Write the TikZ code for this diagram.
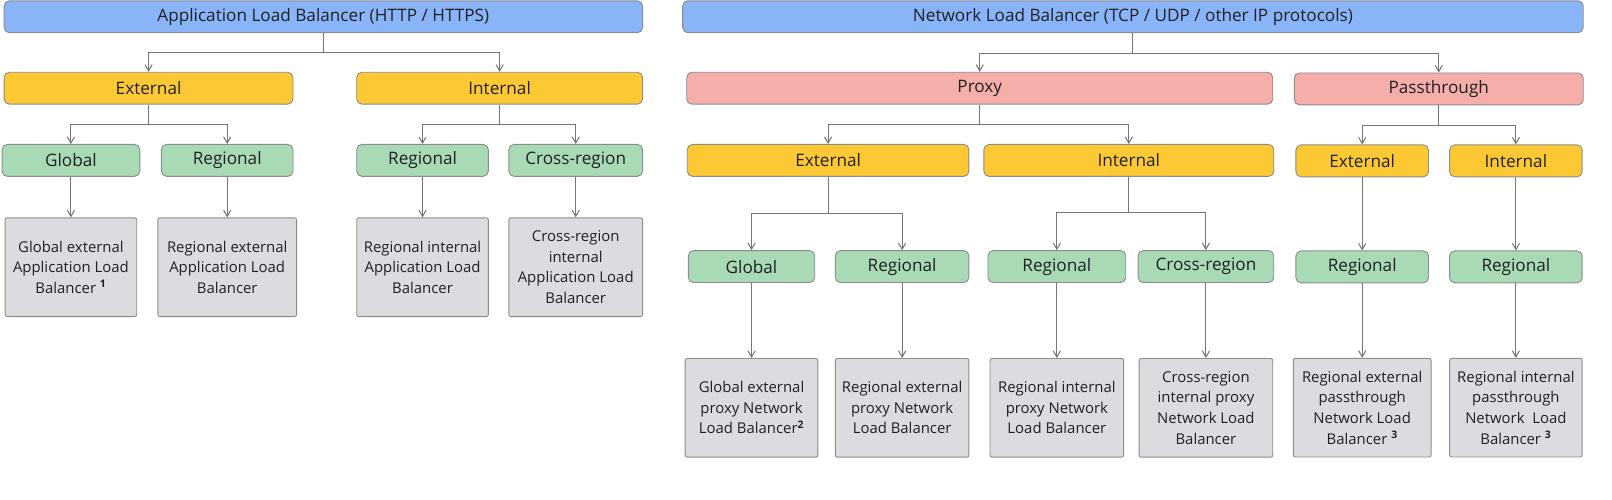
\documentclass[tikz,border=0pt]{standalone}
\usepackage{fontspec}
\setmainfont{Open Sans}
\usetikzlibrary{arrows.meta, positioning}

\definecolor{lbblue}{HTML}{8AB4F8}
\definecolor{lbred}{HTML}{F5AEA9}
\definecolor{lbyellow}{HTML}{FCC934}
\definecolor{lbgreen}{HTML}{A8DAB5}
\definecolor{lbgrey}{HTML}{DADCE0}
\definecolor{boxline}{HTML}{8C8C8C}
\definecolor{linkgrey}{HTML}{757575}
\definecolor{ink}{HTML}{202124}

\begin{document}
\begin{tikzpicture}[
        x=1pt, y=-1pt,
        box/.style={rectangle, draw=boxline, line width=0.9pt, rounded corners=5pt, minimum height=31pt, inner sep=0pt, text=ink, font=\fontsize{16.7}{19}\selectfont},
        proto/.style={box, fill=lbblue},
        mode/.style={box, fill=lbred},
        reach/.style={box, fill=lbyellow},
        region/.style={box, fill=lbgreen},
        product/.style={box, fill=lbgrey, rounded corners=2pt, minimum height=96pt, align=center, font=\fontsize{14.5}{20}\selectfont},
        link/.style={draw=linkgrey, line width=1pt, -{Straight Barb[length=6pt, width=7pt]}}
    ]
    \useasboundingbox (0,0) rectangle (1568,485.4);

    % top level
    \node[proto, minimum width=621pt] (alb) at (314.5,16.3) {Application Load Balancer (HTTP / HTTPS)};
    \node[proto, minimum width=876pt] (nlb) at (1102,16.3) {Network Load Balancer (TCP / UDP / other IP protocols)};

    % application load balancer side
    \node[reach, minimum width=281pt] (albext) at (144.5,85.8) {External};
    \node[reach, minimum width=278pt] (albint) at (486,85.8) {Internal};
    \node[region, minimum width=134pt] (albglobal) at (69,156) {Global};
    \node[region, minimum width=128pt] (albregional) at (221,156) {Regional};
    \node[region, minimum width=128pt] (albintreg) at (411,156) {Regional};
    \node[region, minimum width=130pt] (albcross) at (560,156) {Cross-region};
    \node[product, minimum width=128pt, below=39.5pt of albglobal] (gea) {Global external\\Application Load\\Balancer \textsuperscript{\textbf{1}}};
    \node[product, minimum width=135pt, below=39.5pt of albregional] (rea) {Regional external\\Application Load\\Balancer};
    \node[product, minimum width=128pt, below=39.5pt of albintreg] (ria) {Regional internal\\Application Load\\Balancer};
    \node[product, minimum width=130pt, below=39.5pt of albcross] (cria) {Cross-region\\internal\\Application Load\\Balancer};

    % network load balancer side
    \node[mode, minimum width=570pt] (proxy) at (953,85.8) {Proxy};
    \node[mode, minimum width=281pt] (pass) at (1399.5,86.5) {Passthrough};
    \node[reach, minimum width=274pt] (pxext) at (805.5,156) {External};
    \node[reach, minimum width=282pt] (pxint) at (1098,156) {Internal};
    \node[reach, minimum width=129pt] (ptext) at (1325,156.5) {External};
    \node[reach, minimum width=129pt] (ptint) at (1474.5,156.5) {Internal};
    \node[region, minimum width=123pt] (pxglobal) at (731,259.3) {Global};
    \node[region, minimum width=130pt] (pxregional) at (877.5,259.3) {Regional};
    \node[region, minimum width=134pt] (pxintreg) at (1028,259.3) {Regional};
    \node[region, minimum width=132pt] (pxcross) at (1173,259.3) {Cross-region};
    \node[region, minimum width=129pt] (ptextreg) at (1325,259.6) {Regional};
    \node[region, minimum width=129pt] (ptintreg) at (1474.5,259.6) {Regional};
    \node[product, minimum width=129pt, below=73pt of pxglobal] (gepn) {Global external\\proxy Network\\Load Balancer\textsuperscript{\textbf{2}}};
    \node[product, minimum width=130pt, below=73pt of pxregional] (repn) {Regional external\\proxy Network\\Load Balancer};
    \node[product, minimum width=130pt, below=73pt of pxintreg] (ripn) {Regional internal\\proxy Network\\Load Balancer};
    \node[product, minimum width=130pt, below=73pt of pxcross] (cripn) {Cross-region\\internal proxy\\Network Load\\Balancer};
    \node[product, minimum width=134pt, below=72.5pt of ptextreg] (repp) {Regional external\\passthrough\\Network Load\\Balancer \textsuperscript{\textbf{3}}};
    \node[product, minimum width=129pt, below=72.5pt of ptintreg] (ripp) {Regional internal\\passthrough\\Network\ \ Load\\Balancer \textsuperscript{\textbf{3}}};

    % connectors
    \foreach \c in {albext, albint}
        \draw[link] (alb.south) -- ++(0,19) -| (\c.north);
    \foreach \p/\c in {albext/albglobal, albext/albregional, albint/albintreg, albint/albcross}
        \draw[link] (\p.south) -- ++(0,19.5) -| (\c.north);
    \foreach \p/\c in {albglobal/gea, albregional/rea, albintreg/ria, albcross/cria}
        \draw[link] (\p) -- (\c);

    \foreach \c in {proxy, pass}
        \draw[link] (nlb.south) -- ++(0,19.5) -| (\c.north);
    \foreach \p/\c in {proxy/pxext, proxy/pxint, pass/ptext, pass/ptint}
        \draw[link] (\p.south) -- ++(0,19.5) -| (\c.north);
    \foreach \p/\c in {pxext/pxglobal, pxext/pxregional}
        \draw[link] (\p.south) -- ++(0,35.5) -| (\c.north);
    \foreach \p/\c in {pxint/pxintreg, pxint/pxcross}
        \draw[link] (\p.south) -- ++(0,34.5) -| (\c.north);
    \foreach \p/\c in {ptext/ptextreg, ptint/ptintreg, pxglobal/gepn, pxregional/repn, pxintreg/ripn, pxcross/cripn, ptextreg/repp, ptintreg/ripp}
        \draw[link] (\p) -- (\c);
\end{tikzpicture}
\end{document}
